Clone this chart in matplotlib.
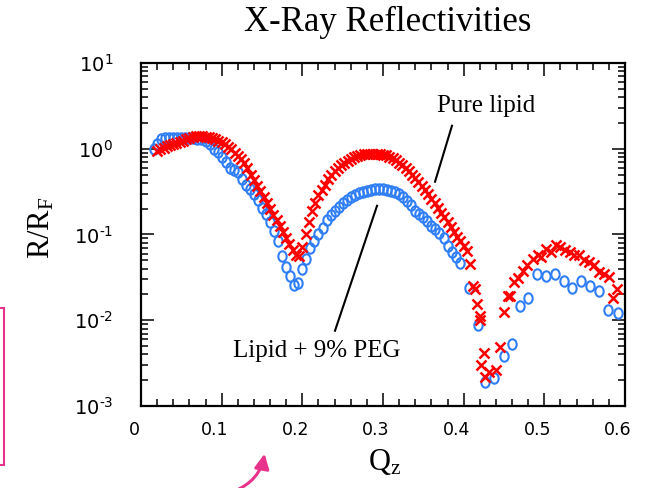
import matplotlib
matplotlib.use('Agg')
import matplotlib.pyplot as plt
import numpy as np
from matplotlib.ticker import MultipleLocator, LogLocator, NullFormatter, FuncFormatter
from matplotlib.patches import Rectangle, FancyArrowPatch
from matplotlib.path import Path
from matplotlib.transforms import Affine2D, ScaledTranslation

plt.rcParams['font.family'] = ['DejaVu Sans']
serif = ['Liberation Serif', 'DejaVu Serif']

# Pure lipid (red crosses)
red_q = [0.020, 0.024, 0.028, 0.032, 0.036, 0.040, 0.044, 0.048, 0.052, 0.056,
         0.060, 0.064, 0.068, 0.072, 0.076, 0.080, 0.084, 0.088, 0.092, 0.096,
         0.100, 0.104, 0.108, 0.112, 0.116, 0.120, 0.124, 0.128, 0.132, 0.136,
         0.140, 0.144, 0.148, 0.152, 0.156, 0.160, 0.164, 0.168, 0.172, 0.176,
         0.180, 0.184, 0.188, 0.192, 0.196, 0.200, 0.204, 0.208, 0.212, 0.216,
         0.220, 0.224, 0.228, 0.232, 0.236, 0.240, 0.244, 0.248, 0.252, 0.256,
         0.260, 0.264, 0.268, 0.272, 0.276, 0.280, 0.284, 0.288, 0.292, 0.296,
         0.300, 0.304, 0.308, 0.312, 0.316, 0.320, 0.324, 0.328, 0.332, 0.336,
         0.340, 0.344, 0.348, 0.352, 0.356, 0.360, 0.364, 0.368, 0.372, 0.376,
         0.380, 0.384, 0.388, 0.392, 0.396, 0.400, 0.404, 0.408, 0.412,
         0.414, 0.417, 0.420, 0.420, 0.425, 0.421, 0.426, 0.431, 0.440, 0.445,
         0.450, 0.455, 0.458, 0.463, 0.467, 0.473, 0.478, 0.486, 0.492, 0.496,
         0.502, 0.508, 0.514, 0.519, 0.525, 0.532, 0.537, 0.543, 0.549, 0.555,
         0.561, 0.568, 0.574, 0.580, 0.585, 0.590]
red_R = [0.95, 1.00, 1.03, 1.07, 1.11, 1.15, 1.17, 1.20, 1.24, 1.29,
         1.33, 1.36, 1.40, 1.40, 1.40, 1.38, 1.36, 1.33, 1.29, 1.24,
         1.20, 1.13, 1.06, 0.98, 0.90, 0.83, 0.76, 0.68, 0.59, 0.50,
         0.43, 0.37, 0.32, 0.27, 0.23, 0.20, 0.17, 0.146, 0.126, 0.107,
         0.091, 0.078, 0.066, 0.058, 0.056, 0.071, 0.10, 0.14, 0.186, 0.234,
         0.29, 0.33, 0.38, 0.44, 0.49, 0.55, 0.60, 0.65, 0.68, 0.72,
         0.76, 0.79, 0.82, 0.84, 0.86, 0.87, 0.875, 0.875, 0.87, 0.86,
         0.85, 0.84, 0.81, 0.78, 0.74, 0.69, 0.65, 0.60, 0.55, 0.50,
         0.46, 0.41, 0.37, 0.33, 0.295, 0.26, 0.23, 0.204, 0.18, 0.158,
         0.138, 0.122, 0.107, 0.093, 0.083, 0.074, 0.065, 0.045, 0.025,
         0.023, 0.0155, 0.0113, 0.010, 0.0042, 0.003, 0.0022, 0.0025, 0.0026, 0.0049,
         0.0126, 0.019, 0.019, 0.028, 0.031, 0.038, 0.044, 0.052, 0.057, 0.055,
         0.068, 0.063, 0.076, 0.072, 0.066, 0.063, 0.057, 0.057, 0.050, 0.048,
         0.044, 0.037, 0.035, 0.032, 0.018, 0.023]

# Lipid + 9% PEG (blue circles)
blue_q = [0.016, 0.020, 0.025, 0.030, 0.035, 0.040, 0.045, 0.050, 0.055, 0.060,
          0.065, 0.070, 0.075, 0.080, 0.085, 0.090, 0.095, 0.100, 0.105, 0.110,
          0.115, 0.120, 0.125, 0.130, 0.135, 0.140, 0.145, 0.150, 0.155, 0.160,
          0.165, 0.170, 0.175, 0.180, 0.185, 0.190, 0.195, 0.200, 0.205, 0.210,
          0.215, 0.220, 0.225, 0.230, 0.235, 0.240, 0.245, 0.250, 0.255, 0.260,
          0.265, 0.270, 0.275, 0.280, 0.285, 0.290, 0.295, 0.300, 0.305, 0.310,
          0.315, 0.320, 0.325, 0.330, 0.335, 0.340, 0.345, 0.350, 0.355, 0.360,
          0.365, 0.370, 0.375, 0.380, 0.385, 0.390, 0.395,
          0.406, 0.418, 0.427, 0.438, 0.450, 0.460, 0.470, 0.480, 0.491, 0.502,
          0.513, 0.524, 0.534, 0.545, 0.557, 0.568, 0.579, 0.591]
blue_R = [1.00, 1.15, 1.30, 1.33, 1.33, 1.34, 1.33, 1.34, 1.33, 1.33,
          1.32, 1.31, 1.30, 1.24, 1.12, 1.00, 0.91, 0.80, 0.70, 0.60,
          0.56, 0.53, 0.44, 0.38, 0.34, 0.30, 0.25, 0.205, 0.175, 0.14,
          0.11, 0.085, 0.056, 0.042, 0.033, 0.026, 0.027, 0.040, 0.052, 0.070,
          0.083, 0.10, 0.12, 0.147, 0.17, 0.19, 0.21, 0.235, 0.25, 0.27,
          0.29, 0.305, 0.315, 0.325, 0.33, 0.335, 0.34, 0.335, 0.33, 0.32,
          0.31, 0.295, 0.27, 0.245, 0.22, 0.19, 0.175, 0.16, 0.145, 0.125,
          0.115, 0.105, 0.09, 0.074, 0.063, 0.055, 0.046,
          0.024, 0.0089, 0.0019, 0.0021, 0.0038, 0.0053, 0.0146, 0.018, 0.035, 0.033,
          0.035, 0.029, 0.024, 0.029, 0.025, 0.022, 0.013, 0.012]

x_ticks = [0, 0.1, 0.2, 0.3, 0.4, 0.5, 0.6]

blue = '#2f7ef5'
red = '#ff0000'
pink = '#e8338d'

fig = plt.figure(figsize=(6.45, 4.88), dpi=100)
ax = fig.add_axes([0.2186, 0.168, 0.7504, 0.703])

# slightly tall open circles like the original symbols
oval = Path.unit_circle().transformed(Affine2D().scale(0.8, 1.0))
ax.plot(blue_q, blue_R, ls='none', marker=oval, ms=7.5, mfc='none', mec=blue, mew=1.5)
ax.plot(red_q, red_R, ls='none', marker='x', ms=7, mec=red, mew=1.8)

ax.set_yscale('log')
ax.set_xlim(0, 0.6)
ax.set_ylim(1e-3, 10)


def pow_label(v, p):
    e = int(round(np.log10(v)))
    s = str(abs(e))
    if e < 0:
        s = '\u2010' + s   # short hyphen like the original
    return r'$\mathdefault{10^{%s}}$' % s


ax.set_xticks(x_ticks)
ax.xaxis.set_minor_locator(MultipleLocator(0.02))
ax.xaxis.set_major_formatter(FuncFormatter(lambda v, p: '0' if abs(v) < 1e-9 else '%.1f' % v))
ax.yaxis.set_major_locator(LogLocator(base=10, numticks=10))
ax.yaxis.set_major_formatter(FuncFormatter(pow_label))
ax.yaxis.set_minor_locator(LogLocator(base=10, subs=range(2, 10), numticks=20))
ax.yaxis.set_minor_formatter(NullFormatter())

for s in ax.spines.values():
    s.set_linewidth(1.6)
ax.tick_params(which='both', direction='in', top=True, right=True, width=1.1)
ax.tick_params(which='major', length=9.5)
ax.tick_params(which='minor', length=5)
ax.tick_params(axis='x', which='major', labelsize=12.5, pad=11)
ax.tick_params(axis='y', which='major', labelsize=14, pad=20)

# x labels sit a little left of their ticks in the original
shift = ScaledTranslation(-7 / 100, 0, fig.dpi_scale_trans)
for lab in ax.get_xticklabels():
    lab.set_transform(lab.get_transform() + shift)

fig.text(388 / 645, 1 - 22 / 488, 'X-Ray Reflectivities', family=serif, fontsize=25,
         ha='center', va='center')
fig.text(42 / 645, 1 - 228 / 488, r'$\mathdefault{R/R_F}$', family=serif, fontsize=22,
         rotation=90, ha='center', va='center')
fig.text(385 / 645, 1 - 462 / 488, r'$\mathdefault{Q_z}$', family=serif, fontsize=22,
         ha='center', va='center')

# annotations
ax.text(0.4277, 3.17, 'Pure lipid', family=serif, fontsize=18, ha='center', va='center')
ax.plot([0.3855, 0.3645], [1.85, 0.412], color='black', lw=1.5)
ax.text(0.218, 0.0044, 'Lipid + 9% PEG', family=serif, fontsize=18, ha='center', va='center')
ax.plot([0.2926, 0.2405], [0.216, 0.00755], color='black', lw=1.5)

# pink marks from the slide
fig.add_artist(Rectangle((-10 / 645, 23 / 488), 13.5 / 645, 157 / 488,
                         transform=fig.transFigure, fill=False, ec=pink, lw=1.5))
fig.add_artist(FancyArrowPatch((232 / 645, -4 / 488), (265 / 645, 37 / 488),
                               transform=fig.transFigure, arrowstyle='-|>',
                               connectionstyle='arc3,rad=0.3', mutation_scale=22,
                               color=pink, lw=2.2))

fig.savefig('out.png', dpi=100)
